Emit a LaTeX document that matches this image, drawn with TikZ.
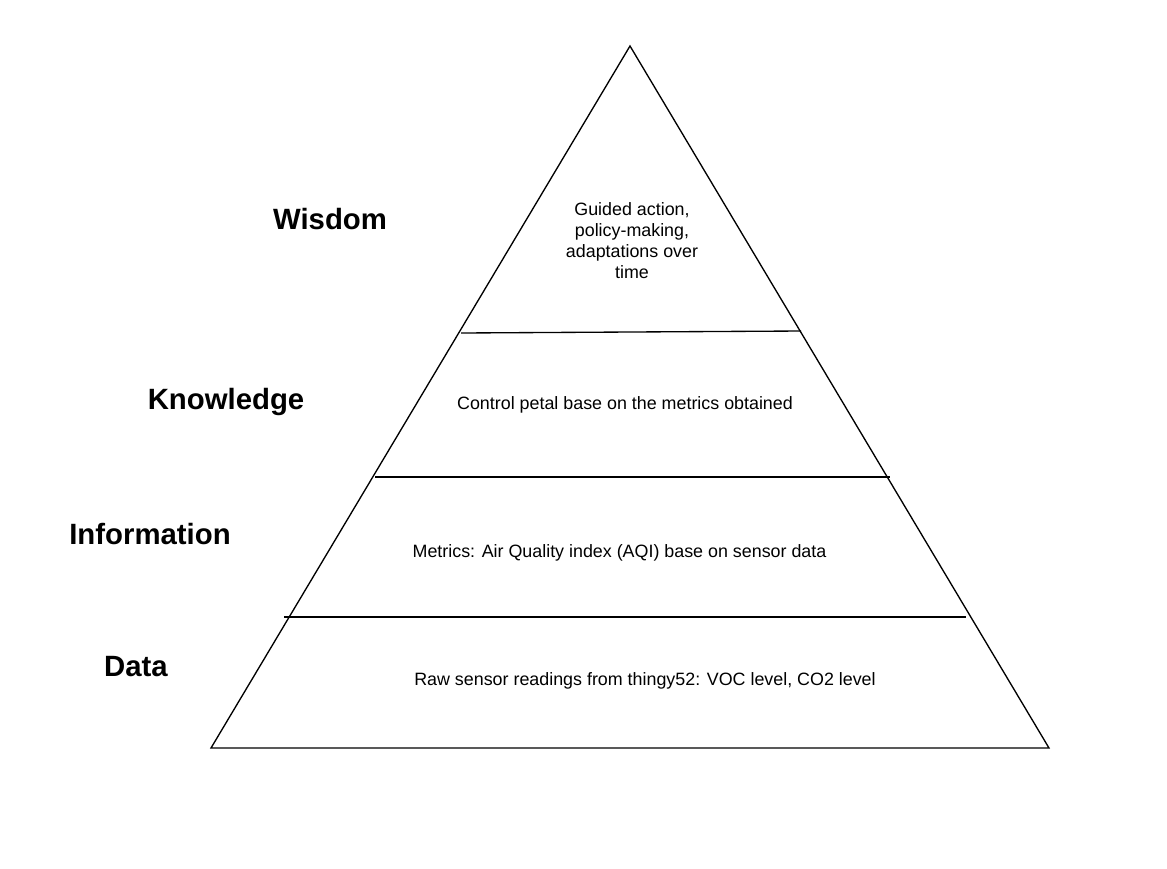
\documentclass[tikz,border=0pt]{standalone}
\usepackage{fontspec}
\setmainfont{Liberation Sans}
\begin{document}
\begin{tikzpicture}[x=0.75pt,y=-0.75pt,
  edge/.style={line width=1pt,line join=miter},
  level/.style={font=\fontsize{22}{26}\selectfont\bfseries,inner sep=0pt},
  desc/.style={font=\fontsize{13.4}{15.75}\selectfont,inner sep=0pt,align=center}]
\useasboundingbox (0,0) rectangle (1167,868);
\fill[white] (0,0) rectangle (1167,868);
\coordinate (apex) at (630,46);
\coordinate (bl) at (211,748);
\coordinate (br) at (1049,748);
\draw[edge] (bl) -- (apex) -- (br) -- cycle;
\coordinate (l1a) at (461,333); \coordinate (l1b) at (801,331);
\coordinate (l2a) at (375,477); \coordinate (l2b) at (890,477);
\coordinate (l3a) at (284,617); \coordinate (l3b) at (966,617);
\draw[edge] (l1a) -- (l1b);
\draw[edge] (l2a) -- (l2b);
\draw[edge] (l3a) -- (l3b);
\node[level] (wis) at (330,219) {Wisdom};
\node[level] (kno) at (226,402) {Knowledge};
\node[level] (inf) at (150,534) {Information};
\node[level] (dat) at (136,667) {Data};
\node[desc] (twis) at (632,241) {Guided action,\\policy-making,\\adaptations over\\time};
\node[desc] (tkno) at (625,405) {Control petal base on the metrics obtained};
\node[desc] (tinf) at (619.5,553) {Metrics: Air Quality index (AQI) base on sensor data};
\node[desc] (tdat) at (645,681) {Raw sensor readings from thingy52: VOC level, CO2 level};
\end{tikzpicture}
\end{document}
